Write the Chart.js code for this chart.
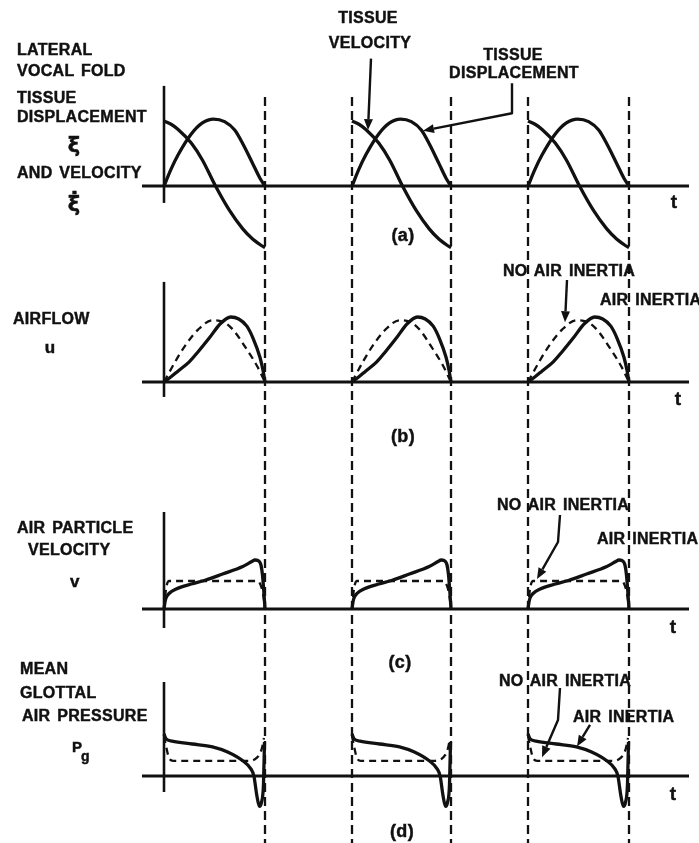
<!DOCTYPE html>
<html><head><meta charset="utf-8">
<script src="https://cdn.jsdelivr.net/npm/chart.js@4"></script>
<style>
html,body{margin:0;padding:0;background:#fff;}
#wrap{position:relative;width:699px;height:843px;overflow:hidden;background:#fff;}
canvas{position:absolute;left:0;top:0;}
.lbl{position:absolute;font-family:"Liberation Sans",Arial,Helvetica,sans-serif;font-weight:bold;color:#111;white-space:nowrap;letter-spacing:0.3px;word-spacing:2px;-webkit-text-stroke:0.45px #111;}
</style></head><body>
<div id="wrap"><canvas id="c" width="699" height="843"></canvas></div>
<script>
// ---------- data (phase within the open phase of each glottal cycle, value) ----------
const cycleStart = [0, 1.88, 3.64];
const cycleEnd   = [1.01, 2.87, 4.65];

// (a) tissue displacement and velocity
const tissueDisplacement = [[0,0],[0.07,0.26],[0.14,0.48],[0.27,0.8],[0.38,0.97],[0.49,1.03],[0.6,0.99],[0.7,0.86],[0.78,0.65],[0.88,0.34],[0.95,0.12],[1,0]];
const tissueVelocity     = [[0,1.0],[0.07,0.95],[0.14,0.87],[0.27,0.66],[0.38,0.4],[0.51,0],[0.65,-0.38],[0.78,-0.66],[0.88,-0.82],[0.95,-0.9],[1,-0.95]];
// (b) airflow u
const airflowInertia   = [[0,0],[0.07,0.08],[0.14,0.17],[0.25,0.31],[0.34,0.47],[0.45,0.68],[0.56,0.9],[0.66,1.0],[0.74,0.97],[0.82,0.86],[0.88,0.68],[0.95,0.38],[0.98,0.18],[1,0]];
const airflowNoInertia = [[0,0],[0.11,0.31],[0.21,0.56],[0.34,0.81],[0.48,0.95],[0.58,0.93],[0.68,0.81],[0.82,0.5],[0.92,0.25],[1,0]];
// (c) air particle velocity v
const particleInertia   = [[0,0],[0.01,0.14],[0.02,0.22],[0.05,0.31],[0.12,0.4],[0.27,0.5],[0.4,0.57],[0.58,0.7],[0.78,0.85],[0.87,0.95],[0.9,0.98],[0.93,0.97],[0.96,0.88],[0.975,0.68],[0.99,0.3],[1,0]];
const particleNoInertia = [[0,0],[0.02,0.4],[0.05,0.56],[0.5,0.56],[0.93,0.56],[0.96,0.46],[0.985,0.25],[1,0]];
// (d) mean glottal air pressure Pg
const pressureInertia   = [[0,1.05],[0.02,0.93],[0.08,0.87],[0.28,0.8],[0.48,0.73],[0.63,0.6],[0.78,0.38],[0.86,0.18],[0.89,0],[0.92,-0.5],[0.945,-0.76],[0.965,-0.66],[0.985,-0.2],[0.995,0.85]];
const pressureNoInertia = [[0,1.0],[0.02,0.75],[0.05,0.45],[0.09,0.38],[0.5,0.38],[0.84,0.38],[0.9,0.42],[0.94,0.52],[0.97,0.7],[0.99,0.95]];

// ---------- layout ----------
const W = 699, H = 843;
const xOrigin = 164, xUnit = 100;
const panels = [
  {id:'yA', zero:186, unit:65, axisTop:1.54, axisBottom:-0.26},
  {id:'yB', zero:382, unit:65, axisTop:1.54, axisBottom:-0.23},
  {id:'yC', zero:609, unit:50, axisTop:1.94, axisBottom:-0.38},
  {id:'yD', zero:776, unit:40, axisTop:2.35, axisBottom:-0.4}
];
const zeroLineFrom = -0.22, zeroLineTo = 5.25;
const dashTopA = 1.37;

const series = [
  {axis:'yA', data:tissueDisplacement, dashed:false},
  {axis:'yA', data:tissueVelocity, dashed:false},
  {axis:'yB', data:airflowInertia, dashed:false},
  {axis:'yB', data:airflowNoInertia, dashed:true},
  {axis:'yC', data:particleInertia, dashed:false},
  {axis:'yC', data:particleNoInertia, dashed:true},
  {axis:'yD', data:pressureInertia, dashed:false},
  {axis:'yD', data:pressureNoInertia, dashed:true}
];

const datasets = [];
series.forEach(s => {
  for (let c = 0; c < cycleStart.length; c++) {
    const len = cycleEnd[c] - cycleStart[c];
    datasets.push({
      data: s.data.map(([p, v]) => ({x: cycleStart[c] + p * len, y: v})),
      yAxisID: s.axis,
      borderColor: '#111',
      borderWidth: s.dashed ? 2.3 : 3.3,
      borderDash: s.dashed ? [7, 5] : [],
      borderCapStyle: 'butt',
      borderJoinStyle: 'round',
      pointRadius: 0,
      fill: false,
      cubicInterpolationMode: 'monotone',
      clip: false
    });
  }
});

// annotation arrows: [axis, [[t,v]...]] last point = tip
const arrows = [
  {axis:'yA', pts:[[2.07,1.96],[2.04,0.86]]},
  {axis:'yA', pts:[[3.48,1.58],[3.48,1.12],[2.59,0.85]]},
  {axis:'yB', pts:[[4.03,1.57],[4.01,0.92]]},
  {axis:'yC', pts:[[3.96,1.88],[3.94,1.34],[3.73,0.6]]},
  {axis:'yD', pts:[[3.96,2.2],[3.94,1.4],[3.78,0.47]]},
  {axis:'yD', pts:[[4.26,1.28],[4.13,0.74]]}
];

const scales = {
  x: {type:'linear', display:false, min:-xOrigin/xUnit, max:(W - xOrigin)/xUnit}
};
panels.forEach(p => {
  scales[p.id] = {type:'linear', display:false, min:-(H - p.zero)/p.unit, max:p.zero/p.unit};
});

const decor = {
  id: 'decor',
  beforeDatasetsDraw(chart) {
    const ctx = chart.ctx, xs = chart.scales.x;
    ctx.save();
    ctx.strokeStyle = '#111';
    panels.forEach(p => {
      const ys = chart.scales[p.id];
      const y0 = ys.getPixelForValue(0);
      ctx.lineWidth = 3;
      ctx.beginPath();
      ctx.moveTo(xs.getPixelForValue(zeroLineFrom), y0);
      ctx.lineTo(xs.getPixelForValue(zeroLineTo), y0);
      ctx.stroke();
      const ax = xs.getPixelForValue(cycleStart[0]);
      ctx.lineWidth = 2.6;
      ctx.beginPath();
      ctx.moveTo(ax, ys.getPixelForValue(p.axisTop));
      ctx.lineTo(ax, ys.getPixelForValue(p.axisBottom));
      ctx.stroke();
    });
    const marks = [cycleEnd[0], cycleStart[1], cycleEnd[1], cycleStart[2], cycleEnd[2]];
    const top = chart.scales.yA.getPixelForValue(dashTopA);
    ctx.setLineDash([9, 5]);
    ctx.lineWidth = 2.3;
    marks.forEach(t => {
      const x = xs.getPixelForValue(t);
      ctx.beginPath();
      ctx.moveTo(x, top);
      ctx.lineTo(x, chart.chartArea.bottom);
      ctx.stroke();
    });
    ctx.restore();
  },
  afterDatasetsDraw(chart) {
    const ctx = chart.ctx, xs = chart.scales.x;
    ctx.save();
    ctx.strokeStyle = '#111';
    ctx.fillStyle = '#111';
    ctx.lineWidth = 2.4;
    ctx.lineJoin = 'round';
    arrows.forEach(a => {
      const ys = chart.scales[a.axis];
      const P = a.pts.map(([t, v]) => [xs.getPixelForValue(t), ys.getPixelForValue(v)]);
      const [tx, ty] = P[P.length - 1];
      const [px, py] = P[P.length - 2];
      const ang = Math.atan2(ty - py, tx - px);
      const L = 11, Hw = 4.5;
      const bx = tx - L * Math.cos(ang), by = ty - L * Math.sin(ang);
      ctx.beginPath();
      ctx.moveTo(P[0][0], P[0][1]);
      for (let i = 1; i < P.length - 1; i++) ctx.lineTo(P[i][0], P[i][1]);
      ctx.lineTo(bx, by);
      ctx.stroke();
      ctx.beginPath();
      ctx.moveTo(tx, ty);
      ctx.lineTo(bx - Hw * Math.sin(ang), by + Hw * Math.cos(ang));
      ctx.lineTo(bx + Hw * Math.sin(ang), by - Hw * Math.cos(ang));
      ctx.closePath();
      ctx.fill();
    });
    ctx.restore();
  }
};

new Chart(document.getElementById('c'), {
  type: 'line',
  data: {datasets},
  options: {
    responsive: false,
    devicePixelRatio: 1,
    animation: false,
    events: [],
    layout: {padding: 0},
    plugins: {legend: {display: false}, tooltip: {enabled: false}, title: {display: false}},
    scales
  },
  plugins: [decor]
});

// ---------- text labels ----------
// [text, x, top, size, align, family]
const labels = [
  ['LATERAL', 17, 42, 16, 'l'],
  ['VOCAL FOLD', 17, 63, 16, 'l'],
  ['TISSUE', 17, 90, 16, 'l'],
  ['DISPLACEMENT', 17, 109, 16, 'l'],
  ['\u03BE', 74, 135, 21, 'c', '"DejaVu Sans",sans-serif'],
  ['AND VELOCITY', 17, 165, 16, 'l'],
  ['\u03BE\u0307', 74, 194, 21, 'c', '"DejaVu Sans",sans-serif'],
  ['AIRFLOW', 13, 311, 16, 'l'],
  ['u', 50, 339, 17, 'c'],
  ['AIR PARTICLE', 17, 520, 16, 'l'],
  ['VELOCITY', 28, 542, 16, 'l'],
  ['v', 75, 573, 17, 'c'],
  ['MEAN', 20, 661, 16, 'l'],
  ['GLOTTAL', 20, 685, 16, 'l'],
  ['AIR PRESSURE', 22, 708, 16, 'l'],
  ['P', 72, 739, 15, 'l'],
  ['g', 81, 749, 14, 'l'],
  ['TISSUE', 368, 10, 16, 'c'],
  ['VELOCITY', 370, 35, 16, 'c'],
  ['TISSUE', 513, 47, 16, 'c'],
  ['DISPLACEMENT', 514, 65, 16, 'c'],
  ['(a)', 403, 226, 18, 'c'],
  ['(b)', 403, 427, 18, 'c'],
  ['(c)', 400, 653, 18, 'c'],
  ['(d)', 402, 822, 18, 'c'],
  ['t', 674, 192, 19, 'c'],
  ['t', 678, 389, 19, 'c'],
  ['t', 673, 617, 19, 'c'],
  ['t', 673, 784, 19, 'c'],
  ['NO AIR INERTIA', 503, 263, 16, 'l'],
  ['AIR INERTIA', 600, 292, 16, 'l'],
  ['NO AIR INERTIA', 497, 497, 16, 'l'],
  ['AIR INERTIA', 597, 531, 16, 'l'],
  ['NO AIR INERTIA', 499, 673, 16, 'l'],
  ['AIR INERTIA', 573, 709, 16, 'l']
];
const wrap = document.getElementById('wrap');
labels.forEach(([txt, x, top, size, align, fam]) => {
  const d = document.createElement('div');
  d.className = 'lbl';
  d.textContent = txt;
  d.style.fontSize = size + 'px';
  d.style.lineHeight = size + 'px';
  d.style.top = top + 'px';
  d.style.left = x + 'px';
  if (fam) d.style.fontFamily = fam;
  if (align === 'c') d.style.transform = 'translateX(-50%)';
  wrap.appendChild(d);
});
</script>
</body></html>
